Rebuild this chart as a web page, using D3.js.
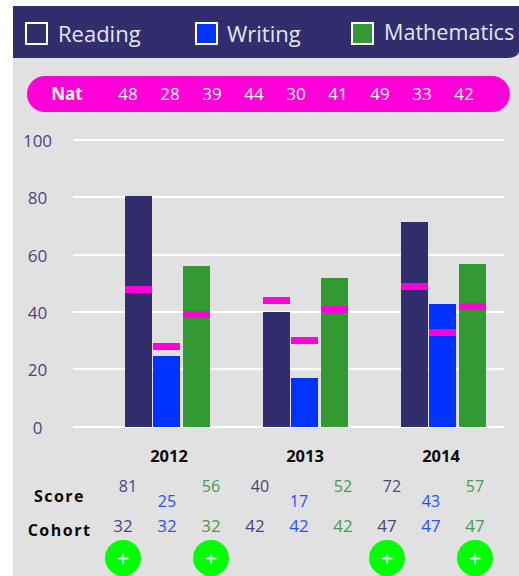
<!DOCTYPE html>
<html><head><meta charset="utf-8">
<script src="https://cdn.jsdelivr.net/npm/d3@7"></script>
<style>html,body{margin:0;padding:0;background:#fff}svg{display:block}text{font-family:"Open Sans",sans-serif}</style>
</head><body><div id="c"></div>
<script>
const years=["2012","2013","2014"];
const seriesNames=["Reading","Writing","Mathematics"];
const seriesColors=["#322d6d","#0033ff","#339933"];
const seriesTextColors=["#4a4580","#2a50f5","#4a9a4f"];
const reading=[80.5,40,71.4];
const writing=[24.7,17,42.8];
const maths=[56,51.9,56.7];
const natReading=[48,44,49];
const natWriting=[28,30,33];
const natMaths=[39,41,42];
const scoreReading=[81,40,72];
const scoreWriting=[25,17,43];
const scoreMaths=[56,52,57];
const cohort=[32,42,47];
const plusMarks=[["2012","Reading"],["2012","Mathematics"],["2014","Reading"],["2014","Mathematics"]];
const yTicks=[0,20,40,60,80,100];

const W=519,H=576;
const svg=d3.select("#c").append("svg").attr("width",W).attr("height",H);
const values={Reading:reading,Writing:writing,Mathematics:maths};
const nats={Reading:natReading,Writing:natWriting,Mathematics:natMaths};
const scores={Reading:scoreReading,Writing:scoreWriting,Mathematics:scoreMaths};

const y=d3.scaleLinear().domain([0,100]).range([426.7,140]);
const xGroup=d3.scalePoint().domain(years).range([125,401]);
const xLabel=d3.scalePoint().domain(years).range([169,441]);
const xRow=d3.scalePoint().domain(years).range([123,387]);
const barOffset=d3.scaleOrdinal().domain(seriesNames).range([0,28,58]);
const barW=27;
const color=d3.scaleOrdinal().domain(seriesNames).range(seriesColors);
const textColor=d3.scaleOrdinal().domain(seriesNames).range(seriesTextColors);

// panel + header
svg.append("rect").attr("x",13).attr("y",50).attr("width",W-13).attr("height",H-50).attr("fill","#e1e1e1");
svg.append("path").attr("fill","#322d6d").attr("d",`M13,6H${W}V52Q${W-2},58 ${W-12},58H13Z`);

// legend
const legendX=d3.scaleOrdinal().domain(seriesNames).range([26,196,352]);
const legendTextX=d3.scaleOrdinal().domain(seriesNames).range([58,227,384]);
const legendBase=d3.scaleOrdinal().domain(seriesNames).range([42,42,40]);
const legendSize=d3.scaleOrdinal().domain(seriesNames).range([22,22,21.6]);
const lg=svg.append("g").selectAll("g").data(seriesNames).join("g");
lg.append("rect").attr("x",d=>legendX(d)).attr("y",23).attr("width",21).attr("height",21)
  .attr("fill",d=>color(d)).attr("stroke","#fff").attr("stroke-width",2);
lg.append("text").attr("x",d=>legendTextX(d)).attr("y",d=>legendBase(d)).attr("fill","#e6e5ef")
  .attr("font-size",d=>legendSize(d)).text(d=>d);

// Nat pill
svg.append("rect").attr("x",27).attr("y",76).attr("width",483).attr("height",36).attr("rx",18).attr("fill","#ff00d8");
svg.append("text").attr("x",67).attr("y",100).attr("text-anchor","middle").attr("fill","#fff")
  .attr("font-size",17).attr("font-weight",700).text("Nat");
const natFlat=years.flatMap((yr,i)=>seriesNames.map(s=>({yr,s,v:nats[s][i]})));
const natX=d3.scalePoint().domain(d3.range(natFlat.length)).range([128,464]);
svg.append("g").selectAll("text").data(natFlat).join("text")
  .attr("x",(d,i)=>natX(i)).attr("y",100).attr("text-anchor","middle").attr("fill","#fff")
  .attr("font-size",17).text(d=>d.v);

// grid + y labels
svg.append("g").attr("shape-rendering","crispEdges").selectAll("line").data(yTicks).join("line")
  .attr("x1",73).attr("x2",504).attr("y1",d=>y(d)).attr("y2",d=>y(d))
  .attr("stroke","#fff").attr("stroke-width",2);
svg.append("g").selectAll("text").data(yTicks).join("text")
  .attr("x",37.5).attr("y",d=>y(d)+7).attr("text-anchor","middle").attr("fill","#4a4580")
  .attr("font-size",17).text(d=>d);

// bars
const barData=years.flatMap((yr,i)=>seriesNames.map(s=>({yr,s,v:values[s][i],n:nats[s][i],score:scores[s][i],c:cohort[i]})));
const bx=d=>xGroup(d.yr)+barOffset(d.s);
svg.append("g").attr("shape-rendering","crispEdges").selectAll("rect").data(barData).join("rect")
  .attr("x",bx).attr("y",d=>y(d.v)).attr("width",barW).attr("height",d=>y(0)-y(d.v)).attr("fill",d=>color(d.s));
svg.append("g").attr("shape-rendering","crispEdges").selectAll("rect").data(barData).join("rect")
  .attr("x",bx).attr("y",d=>y(d.n)-3.5).attr("width",barW).attr("height",7).attr("fill","#ff00d8");

// years
svg.append("g").selectAll("text").data(years).join("text")
  .attr("x",d=>xLabel(d)).attr("y",462).attr("text-anchor","middle")
  .attr("font-weight",700).attr("font-size",16.5).attr("fill","#0a0a0a").text(d=>d);

// row labels
svg.append("text").attr("x",59.5).attr("y",502).attr("text-anchor","middle")
  .attr("font-weight",700).attr("font-size",16).attr("letter-spacing",1.5).attr("fill","#0a0a0a").text("Score");
svg.append("text").attr("x",59.5).attr("y",536).attr("text-anchor","middle")
  .attr("font-weight",700).attr("font-size",16).attr("letter-spacing",1.5).attr("fill","#0a0a0a").text("Cohort");

// score and cohort rows
const tx=d3.scaleOrdinal().domain(seriesNames).range([0,44,88]);
const scoreDx=d3.scaleOrdinal().domain(seriesNames).range([5,0,0]);
const scoreBase=d3.scaleOrdinal().domain(seriesNames).range([492,507,492]);
function bx0(d){return xRow(d.yr)+tx(d.s);}
svg.append("g").selectAll("text").data(barData).join("text")
  .attr("x",d=>bx0(d)+scoreDx(d.s)).attr("y",d=>scoreBase(d.s)).attr("text-anchor","middle")
  .attr("font-size",16).attr("fill",d=>textColor(d.s)).text(d=>d.score);
svg.append("g").selectAll("text").data(barData).join("text")
  .attr("x",d=>bx0(d)).attr("y",532).attr("text-anchor","middle")
  .attr("font-size",17).attr("fill",d=>textColor(d.s)).text(d=>d.c);

// plus buttons
const pg=svg.append("g").selectAll("g").data(plusMarks).join("g")
  .attr("transform",d=>`translate(${bx0({yr:d[0],s:d[1]})},558)`);
pg.append("circle").attr("r",18).attr("fill","#00ff00");
pg.append("text").attr("y",8).attr("text-anchor","middle").attr("fill","#fff").attr("font-size",22).text("+");
</script></body></html>
